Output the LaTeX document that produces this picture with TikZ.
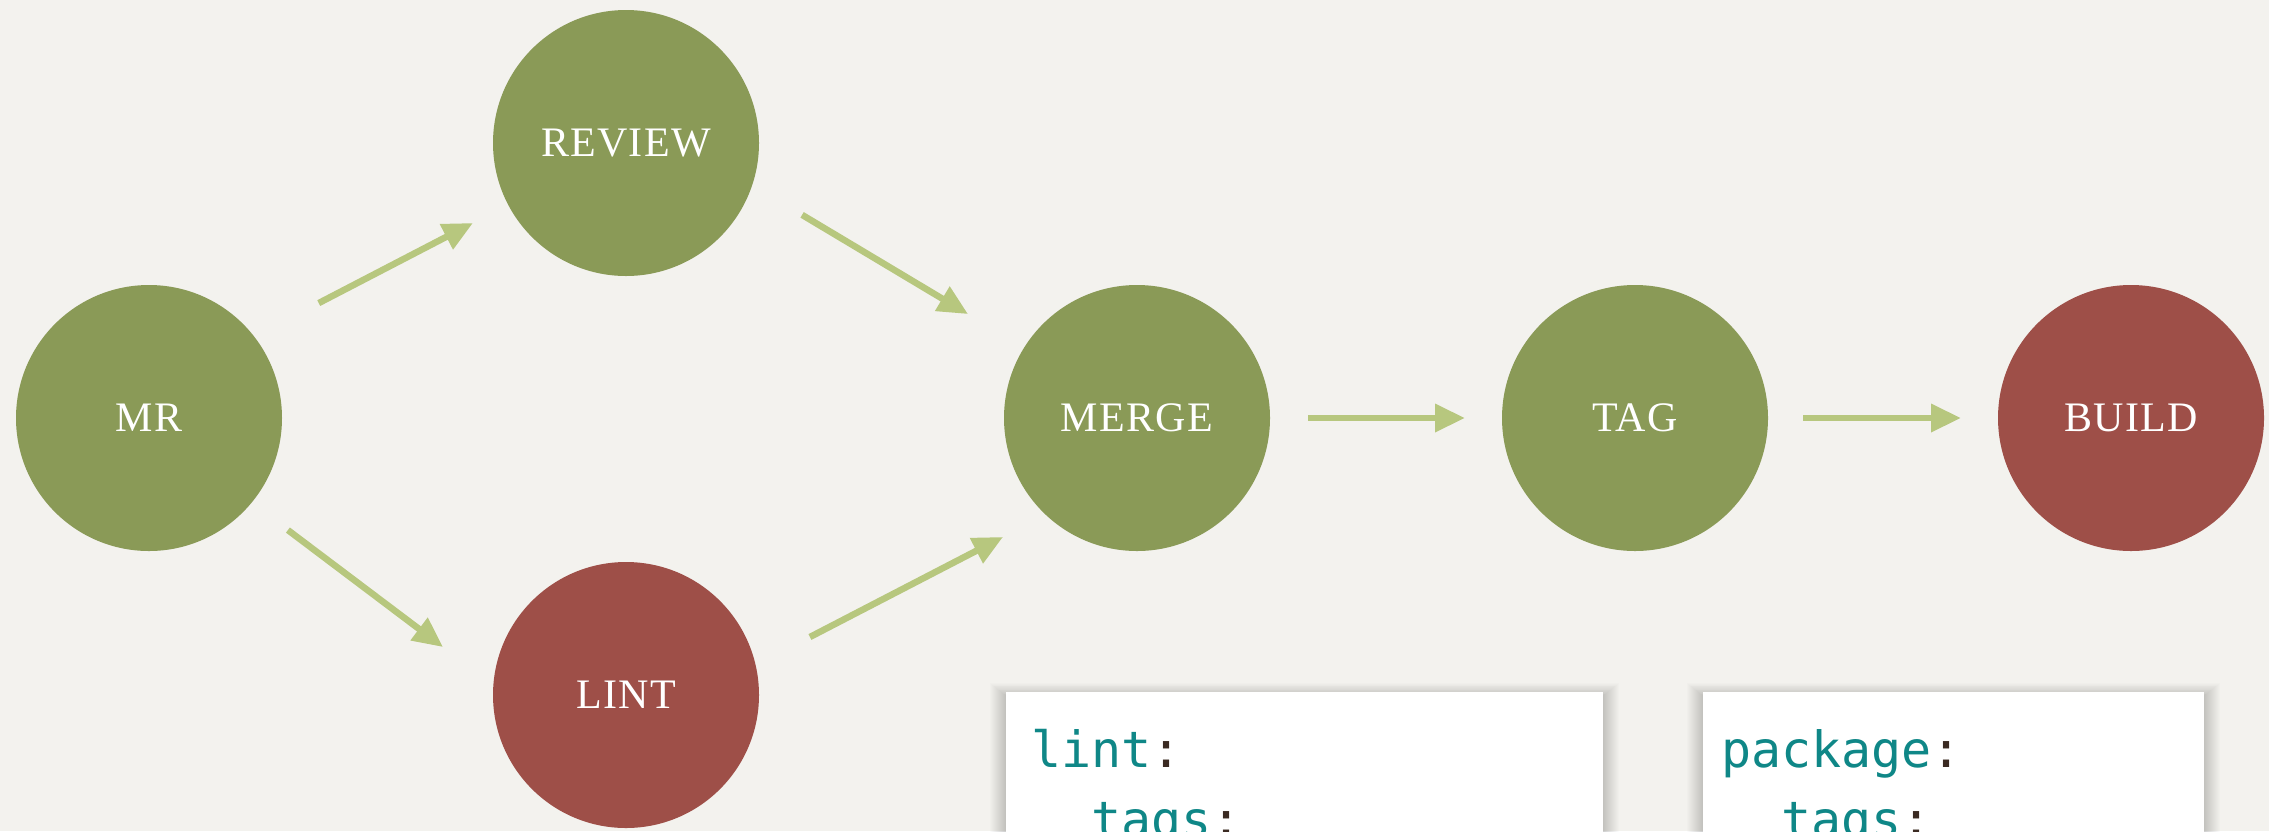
\documentclass[tikz,border=0pt]{standalone}
\usepackage{fontspec}
\setmainfont{Liberation Serif}
\newfontfamily\codefont{DejaVu Sans Mono}
\usetikzlibrary{arrows.meta,calc}
\definecolor{bg}{HTML}{F3F2EE}
\definecolor{okgreen}{HTML}{8A9A57}
\definecolor{failred}{HTML}{9E4F48}
\definecolor{arrowgreen}{HTML}{B7C77E}
\definecolor{codeteal}{HTML}{0F8787}
\definecolor{codecolon}{HTML}{3B2A22}
\begin{document}
\begin{tikzpicture}[x=1pt,y=-1pt,
  stage/.style={circle, minimum size=266pt, inner sep=0pt, text=white,
    font=\fontsize{42}{50}\selectfont\addfontfeature{LetterSpace=3}},
  ok/.style={stage, fill=okgreen},
  fail/.style={stage, fill=failred},
  flow/.style={draw=arrowgreen, line width=6.5pt, -{Triangle[length=30pt,width=27pt]}},
  codebox/.style={fill=white, inner sep=0pt, anchor=north west, minimum height=200pt},
  codeline/.style={anchor=base west, inner sep=0pt, text=codeteal,
    font=\codefont\fontsize{50}{60}\selectfont}]
\fill[bg] (0,0) rectangle (2269,831);
\useasboundingbox (0,0) rectangle (2269,831);

% stages
\node[ok]   (MR)     at (149,418)  {MR};
\node[ok]   (REVIEW) at (626,143)  {REVIEW};
\node[fail] (LINT)   at (626,695)  {LINT};
\node[ok]   (MERGE)  at (1137,418) {MERGE};
\node[ok]   (TAG)    at (1635,418) {TAG};
\node[fail] (BUILD)  at (2131,418) {BUILD};

% connectors
\draw[flow] ($(MR)+(34.1:205pt)$) -- ($(REVIEW)+(207.6:172.7pt)$);
\draw[flow] ($(REVIEW)+(-22.2:190.2pt)$) -- ($(MERGE)+(148.4:198.4pt)$);
\draw[flow] ($(MR)+(-38.9:178.5pt)$) -- ($(LINT)+(165.3:189.2pt)$);
\draw[flow] ($(LINT)+(17.5:192.9pt)$) -- ($(MERGE)+(221.6:179.2pt)$);
\draw[flow] ($(MERGE)+(0:171pt)$) -- ($(TAG)+(180:170pt)$);
\draw[flow] ($(TAG)+(0:168pt)$) -- ($(BUILD)+(180:170pt)$);

% soft shadows of code boxes
\foreach \i in {1,...,16}{
  \fill[black, opacity=0.013] ({1006-\i},{696-0.8*\i}) rectangle ({1603+\i},900);
  \fill[black, opacity=0.013] ({1703-\i},{696-0.8*\i}) rectangle ({2204+\i},900);
}

% code boxes
\node[codebox, minimum width=597pt] (box1) at (1006,692) {};
\node[codebox, minimum width=501pt] (box2) at (1703,692) {};
\node[codeline] (lintA) at (1031,767) {lint\textcolor{codecolon}{:}};
\node[codeline] (lintB) at (1031,837) {\ \ tags\textcolor{codecolon}{:}};
\node[codeline] (pkgA)  at (1721,767) {package\textcolor{codecolon}{:}};
\node[codeline] (pkgB)  at (1721,837) {\ \ tags\textcolor{codecolon}{:}};
\end{tikzpicture}
\end{document}
